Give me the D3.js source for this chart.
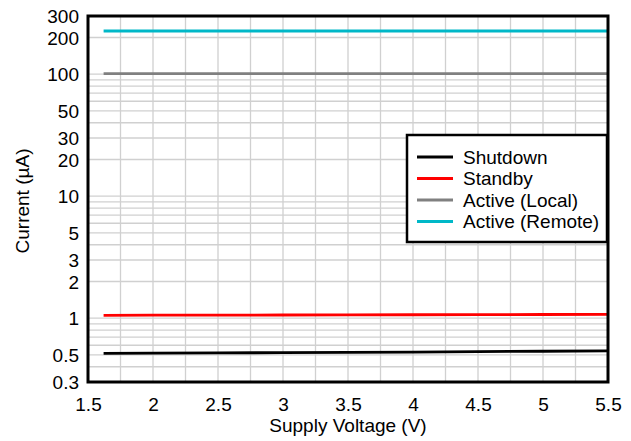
<!DOCTYPE html>
<html><head><meta charset="utf-8">
<script src="https://cdn.jsdelivr.net/npm/d3@7"></script>
<style>body{margin:0;background:#fff;} text{font-family:"Liberation Sans",Arial,sans-serif;}</style>
</head><body>
<svg id="c" width="631" height="441"></svg>
<script>
const voltages = [1.62, 2, 2.5, 3, 3.5, 4, 4.5, 5, 5.5];
const shutdown = [0.515, 0.517, 0.52, 0.522, 0.525, 0.528, 0.532, 0.536, 0.54];
const standby = [1.056, 1.058, 1.06, 1.062, 1.064, 1.067, 1.07, 1.073, 1.076];
const activeLocal = [101, 101, 101, 101, 101, 101, 101, 101, 101];
const activeRemote = [226, 226, 226, 226, 226, 226, 226, 226, 226];
const seriesNames = ["Shutdown", "Standby", "Active (Local)", "Active (Remote)"];
const seriesColors = ["#000000", "#ff0000", "#808080", "#00b8c8"];
const xTicks = [1.5, 2, 2.5, 3, 3.5, 4, 4.5, 5, 5.5];
const yTicks = [0.3, 0.5, 1, 2, 3, 5, 10, 20, 30, 50, 100, 200, 300];

const series = [shutdown, standby, activeLocal, activeRemote];
const FS = 19;
const svg = d3.select("#c");
const L = 88, R = 608, T = 16, B = 382;
const x = d3.scaleLinear().domain([1.5, 5.5]).range([L, R]);
const y = d3.scaleLog().domain([0.3, 300]).range([B, T]);

// grid
const xGrid = d3.range(1.5, 5.5001, 0.25);
const yGrid = [];
[0.1, 1, 10, 100].forEach(d => { for (let k = 1; k <= 9; k++) { const v = +(d * k).toPrecision(3); if (v >= 0.3 && v <= 300) yGrid.push(v); } });
const g = svg.append("g");
g.selectAll("line.xg").data(xGrid).enter().append("line")
  .attr("x1", d => x(d)).attr("x2", d => x(d)).attr("y1", T).attr("y2", B)
  .attr("stroke", "#d0d0d0").attr("stroke-width", 1.3);
g.selectAll("line.yg").data(yGrid).enter().append("line")
  .attr("x1", L).attr("x2", R).attr("y1", d => y(d)).attr("y2", d => y(d))
  .attr("stroke", "#d0d0d0").attr("stroke-width", 1.3);

// lines
const line = d3.line().x((d, i) => x(voltages[i])).y(d => y(d));
series.forEach((s, i) => {
  svg.append("path").datum(s).attr("d", line).attr("fill", "none")
    .attr("stroke", seriesColors[i]).attr("stroke-width", 2.8);
});

// axes
const xAxis = d3.axisBottom(x).tickValues(xTicks).tickSize(0).tickPadding(0).tickFormat(d3.format("~g"));
const xa = svg.append("g").attr("transform", `translate(0,${B})`).call(xAxis);
xa.select(".domain").remove();
xa.selectAll("text").attr("font-size", FS).attr("fill", "#000").attr("dy", null).attr("y", 29).attr("font-family", "Liberation Sans, Arial, sans-serif");
const yAxis = d3.axisLeft(y).tickValues(yTicks).tickSize(0).tickPadding(0).tickFormat(d3.format("~g"));
const ya = svg.append("g").attr("transform", `translate(${L},0)`).call(yAxis);
ya.select(".domain").remove();
ya.selectAll("text").attr("font-size", FS).attr("fill", "#000").attr("x", -9).attr("dy", "0.35em").attr("font-family", "Liberation Sans, Arial, sans-serif");

// border
svg.append("rect").attr("x", L).attr("y", T).attr("width", R - L).attr("height", B - T)
  .attr("fill", "none").attr("stroke", "#000").attr("stroke-width", 3);

// axis titles
svg.append("text").attr("x", 348).attr("y", 432).attr("text-anchor", "middle").attr("font-size", FS).text("Supply Voltage (V)");
svg.append("text").attr("transform", "translate(29,201) rotate(-90)").attr("text-anchor", "middle").attr("font-size", FS).text("Current (µA)");

// legend
const lg = svg.append("g");
lg.append("rect").attr("x", 407).attr("y", 135).attr("width", 200).attr("height", 107)
  .attr("fill", "#fff").attr("stroke", "#000").attr("stroke-width", 2.5);
seriesNames.forEach((n, i) => {
  const cy = 157 + i * 21.5;
  lg.append("line").attr("x1", 417).attr("x2", 453).attr("y1", cy).attr("y2", cy)
    .attr("stroke", seriesColors[i]).attr("stroke-width", 2.8);
  lg.append("text").attr("x", 463).attr("y", cy).attr("dy", "0.35em").attr("font-size", FS).text(n);
});
</script>
</body></html>
